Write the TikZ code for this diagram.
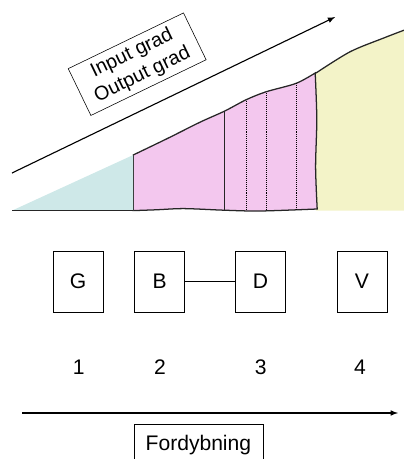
\documentclass[tikz,border=0pt]{standalone}
\usepackage{fontspec}
\setmainfont{Liberation Sans}

\definecolor{bluefill}{RGB}{206,232,232}
\definecolor{pinkfill}{RGB}{243,199,238}
\definecolor{yellowfill}{RGB}{243,243,200}

\tikzset{
	stage/.style = {draw, thin, minimum width = 1.25cm, minimum height = 1.52cm, font = \fontsize{15}{18}\selectfont},
	num/.style = {font = \fontsize{15}{18}\selectfont},
	edge/.style = {line width = 0.9pt, draw = black!85}
}

\begin{document}
\begin{tikzpicture}
	%	frame
	\clip (0, 0) rectangle (10.1, 11.475);
	\useasboundingbox (0, 0) rectangle (10.1, 11.475);
	
	\def\base{6.21}
	
	%	yellow part
	\fill[yellowfill] (7.9, \base) -- (7.9, 9.65)
		-- plot[smooth] coordinates {(7.9, 9.65) (8.75, 10.18) (9.58, 10.52) (10.1, 10.72)}
		-- (10.1, \base) -- cycle;
	\draw[edge] plot[smooth] coordinates {(7.9, 9.65) (8.75, 10.18) (9.58, 10.52) (10.1, 10.72)};
	
	%	pink part
	\filldraw[fill = pinkfill, edge] (3.33, \base) -- (3.33, 7.6)
		-- plot[smooth] coordinates {(3.33, 7.6) (4.2, 8.02) (5.0, 8.42) (5.62, 8.7) (6.15, 8.98) (6.65, 9.18) (7.4, 9.39) (7.88, 9.65)}
		-- plot[smooth] coordinates {(7.88, 9.65) (7.92, 8.5) (7.89, 7.3) (7.93, 6.25)}
		-- plot[smooth] coordinates {(7.93, 6.25) (6.5, 6.2) (5.6, 6.22) (4.6, 6.26) (3.9, 6.23) (3.33, \base)}
		-- cycle;
	\draw[edge] (5.62, 6.22) -- (5.62, 8.7);
	\foreach \x/\y in {6.15/8.98, 6.65/9.18, 7.4/9.39}
		\draw[densely dotted, thin] (\x, 6.23) -- (\x, \y);
	
	%	blue part
	\fill[bluefill] (0.3, \base) -- (3.33, 7.6) -- (3.33, \base) -- cycle;
	\draw[edge] (0.3, \base) -- (3.33, \base);
	
	%	grad arrow
	\coordinate (gstart) at (0.3, 7.15);
	\coordinate (gend) at (8.38, 11.05);
	\draw[-latex, line width = 0.8pt] (gstart) -- (gend);
	\node[draw, thin, fill = white, rotate = 25.8, align = center, minimum width = 3.2cm, minimum height = 1.3cm,
		font = \fontsize{14}{17}\selectfont] (grad) at (3.43, 9.87) {Input grad\\Output grad};
	
	%	stages
	\node[stage] (G) at (1.95, 4.44) {G};
	\node[stage] (B) at (3.99, 4.44) {B};
	\node[stage] (D) at (6.51, 4.44) {D};
	\node[stage] (V) at (9.05, 4.44) {V};
	\draw[thin] (B) -- (D);
	
	\node[num] (n1) at (1.97, 2.3) {1};
	\node[num] (n2) at (4.0, 2.3) {2};
	\node[num] (n3) at (6.52, 2.3) {3};
	\node[num] (n4) at (9.0, 2.3) {4};
	
	%	depth arrow
	\coordinate (dstart) at (0.55, 1.15);
	\coordinate (dend) at (9.95, 1.15);
	\draw[-latex, line width = 0.8pt] (dstart) -- (dend);
	\node[draw, thin, minimum width = 3.22cm, minimum height = 1.05cm, font = \fontsize{15}{18}\selectfont] (depth) at (4.96, 0.35) {Fordybning};
\end{tikzpicture}
\end{document}
